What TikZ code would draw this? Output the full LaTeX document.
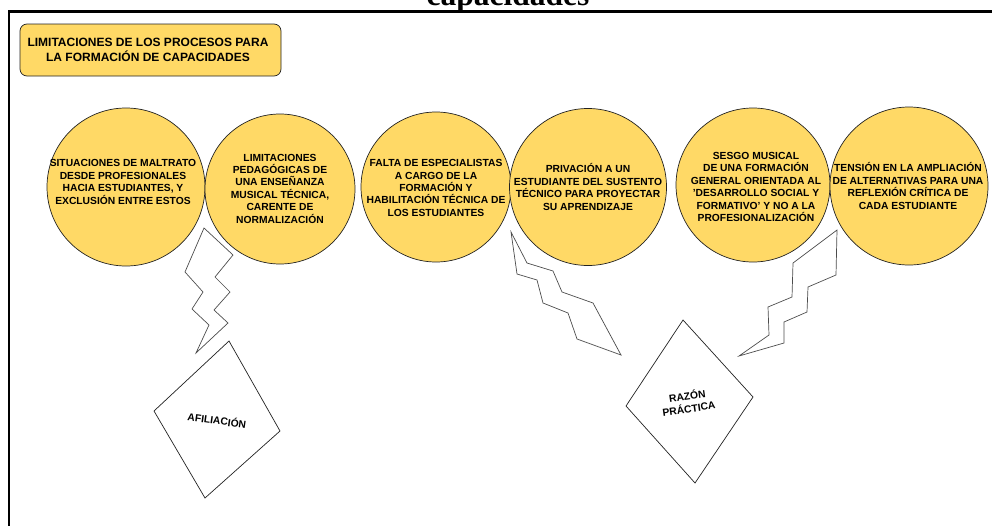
\documentclass[tikz,border=0pt]{standalone}
\usepackage{fontspec}
\setmainfont{Liberation Sans}
\newfontfamily\titleserif{Liberation Serif}
\definecolor{sun}{HTML}{FFD966}
\definecolor{ink}{HTML}{222222}

\tikzset{
  frameline/.style={line width=2.2pt, draw=black},
  headerbox/.style={rectangle, rounded corners=7pt, draw=ink, line width=0.7pt, fill=sun,
    minimum width=261pt, minimum height=52pt, inner sep=0pt},
  headertext/.style={align=center, inner sep=0pt,
    font=\fontsize{12}{15}\selectfont\bfseries},
  disc/.style={circle, draw=ink, line width=0.7pt, fill=sun, inner sep=0pt},
  disctext/.style={align=center, inner sep=0pt,
    font=\fontsize{10.3}{12.4}\selectfont\bfseries},
  bolt/.style={draw=black!70, line width=0.7pt, line join=miter},
  kite/.style={draw=ink, line width=0.7pt, fill=white},
}

\begin{document}
\begin{tikzpicture}[x=1pt, y=-1pt]
\useasboundingbox (0,0) rectangle (992,525);

% title running off the top edge, and the frame below it
\node[font=\titleserif\bfseries\fontsize{31.5}{34}\selectfont, anchor=base, inner sep=0pt]
  (title) at (508,5) {capacidades};
\draw[frameline] (9,530) -- (9,11.5) -- (1000,11.5);

% heading box
\node[headerbox] (head) at (150.5,50) {};
\node[headertext] (headtxt) at (148,50)
  {LIMITACIONES DE LOS PROCESOS PARA\\LA FORMACIÓN DE CAPACIDADES};

% row of limitations
\node[disc, minimum size=158pt] (c1) at (126,187) {};
\node[disc, minimum size=150pt] (c2) at (280,189) {};
\node[disc, minimum size=150pt] (c3) at (436,187) {};
\node[disc, minimum size=157pt] (c4) at (588,187) {};
\node[disc, minimum size=154pt] (c5) at (753,185) {};
\node[disc, minimum size=158pt] (c6) at (909,186) {};

\node[disctext] (t1) at (123,182)
  {SITUACIONES DE MALTRATO\\DESDE PROFESIONALES\\HACIA ESTUDIANTES, Y\\EXCLUSIÓN ENTRE ESTOS};
\node[disctext] (t2) at (280,188.5)
  {LIMITACIONES\\PEDAGÓGICAS DE\\UNA ENSEÑANZA\\MUSICAL TÉCNICA,\\CARENTE DE\\NORMALIZACIÓN};
\node[disctext] (t3) at (436,188)
  {FALTA DE ESPECIALISTAS\\A CARGO DE LA\\FORMACIÓN Y\\HABILITACIÓN TÉCNICA DE\\LOS ESTUDIANTES};
\node[disctext] (t4) at (588,187)
  {PRIVACIÓN A UN\\ESTUDIANTE DEL SUSTENTO\\TÉCNICO PARA PROYECTAR\\SU APRENDIZAJE};
\node[disctext] (t5) at (756,187)
  {SESGO MUSICAL\\DE UNA FORMACIÓN\\GENERAL ORIENTADA AL\\'DESARROLLO SOCIAL Y\\FORMATIVO' Y NO A LA\\PROFESIONALIZACIÓN};
\node[disctext] (t6) at (908,186)
  {TENSIÓN EN LA AMPLIACIÓN\\DE ALTERNATIVAS PARA UNA\\REFLEXIÓN CRÍTICA DE\\CADA ESTUDIANTE};

% lightning bolts
\draw[bolt] (204,228) -- (233,255) -- (215,277) -- (230,292) -- (214,310) -- (228,323)
  -- (196,353) -- (209,325) -- (192,309) -- (203,292) -- (185,272) -- cycle;
\draw[bolt] (511,232) -- (527,263) -- (553,271) -- (562,292) -- (593,303) -- (621,355)
  -- (577,339) -- (568,313) -- (543,303) -- (537,280) -- (517,274) -- cycle;
\draw[bolt] (837,230) -- (836,275) -- (808,287) -- (807,312) -- (784,322) -- (784,343)
  -- (739,356) -- (769,335) -- (768,307) -- (792,297) -- (793,263) -- cycle;

% capability diamonds
\draw[kite] (229,341) -- (280,431) -- (205,498) -- (154,411) -- cycle;
\node[disctext, rotate=-8] (d1) at (217,420) {AFILIACIÓN};
\draw[kite] (683,320) -- (753,397) -- (695,483) -- (626,406) -- cycle;
\node[disctext, rotate=8] (d2) at (688,402) {RAZÓN\\PRÁCTICA};
\end{tikzpicture}
\end{document}
